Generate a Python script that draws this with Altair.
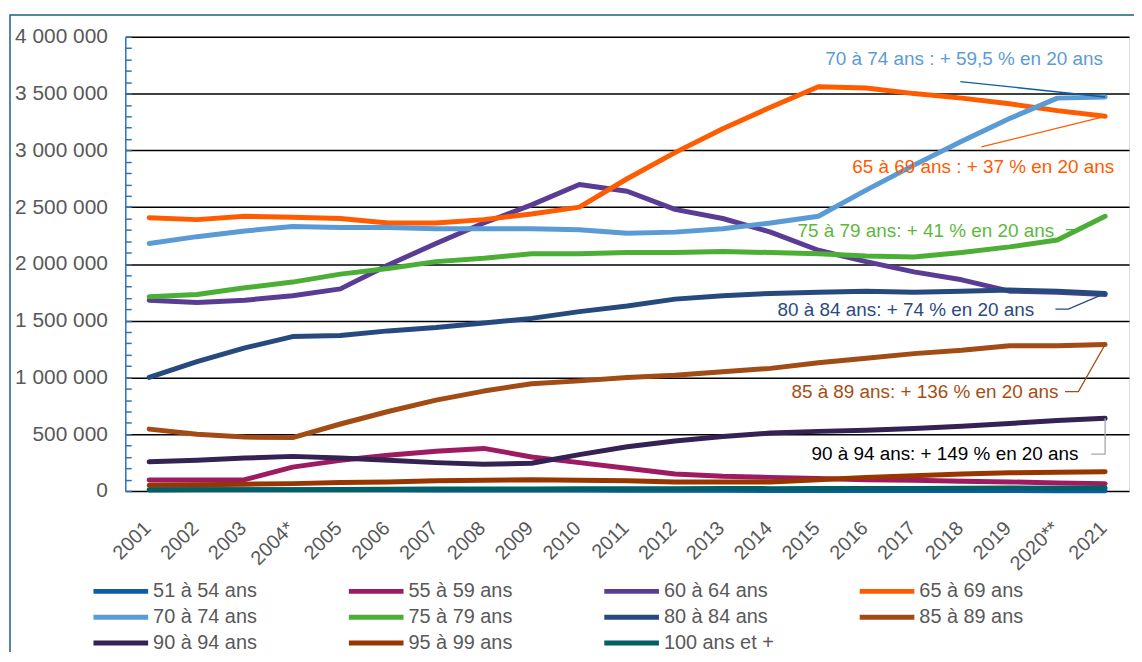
import altair as alt
import pandas as pd

years = list(range(2001, 2022))
year_labels = ["2001", "2002", "2003", "2004*", "2005", "2006", "2007", "2008", "2009", "2010",
               "2011", "2012", "2013", "2014", "2015", "2016", "2017", "2018", "2019", "2020**", "2021"]

series_names = ["51 à 54 ans", "55 à 59 ans", "60 à 64 ans", "65 à 69 ans",
                "70 à 74 ans", "75 à 79 ans", "80 à 84 ans", "85 à 89 ans",
                "90 à 94 ans", "95 à 99 ans", "100 ans et +"]
series_colors = ["#0b5da8", "#9e1b62", "#5b3c95", "#ff5b00",
                 "#5b9bd5", "#4caf35", "#274a7e", "#a24b14",
                 "#332253", "#993600", "#005f67"]

s51_54 = [12000, 12000, 11000, 11000, 10000, 10000, 9000, 9000, 9000, 8000, 7000,
          6000, 6000, 5000, 5000, 5000, 4000, 4000, 4000, 3000, 3000]
s55_59 = [96000, 96000, 100000, 210000, 270000, 315000, 350000, 375000, 300000, 250000, 200000,
          150000, 130000, 120000, 110000, 100000, 95000, 85000, 80000, 70000, 65000]
s60_64 = [1680000, 1660000, 1680000, 1720000, 1780000, 1990000, 2180000, 2360000, 2520000, 2700000, 2640000,
          2480000, 2400000, 2280000, 2120000, 2020000, 1930000, 1860000, 1760000, 1750000, 1730000]
s65_69 = [2407000, 2390000, 2420000, 2410000, 2400000, 2360000, 2360000, 2390000, 2440000, 2500000, 2750000,
          2980000, 3190000, 3380000, 3560000, 3550000, 3500000, 3460000, 3410000, 3350000, 3300000]
s70_74 = [2180000, 2240000, 2290000, 2330000, 2320000, 2320000, 2310000, 2310000, 2310000, 2300000, 2270000,
          2280000, 2310000, 2360000, 2420000, 2650000, 2870000, 3080000, 3280000, 3460000, 3470000]
s75_79 = [1710000, 1730000, 1790000, 1840000, 1910000, 1960000, 2020000, 2050000, 2090000, 2090000, 2100000,
          2100000, 2110000, 2100000, 2090000, 2070000, 2060000, 2100000, 2150000, 2210000, 2420000]
s80_84 = [1000000, 1140000, 1260000, 1360000, 1370000, 1410000, 1440000, 1480000, 1520000, 1580000, 1630000,
          1690000, 1720000, 1740000, 1750000, 1760000, 1750000, 1760000, 1770000, 1760000, 1740000]
s85_89 = [545000, 500000, 475000, 470000, 590000, 700000, 800000, 880000, 945000, 970000, 1000000,
          1020000, 1050000, 1080000, 1130000, 1170000, 1210000, 1240000, 1280000, 1280000, 1290000]
s90_94 = [257000, 270000, 290000, 305000, 290000, 270000, 250000, 235000, 245000, 320000, 390000,
          440000, 480000, 510000, 525000, 535000, 550000, 570000, 595000, 620000, 640000]
s95_99 = [50000, 55000, 60000, 65000, 75000, 80000, 90000, 95000, 100000, 95000, 90000,
          80000, 80000, 80000, 100000, 120000, 135000, 150000, 160000, 165000, 170000]
s100 = [9000, 11000, 12000, 12000, 14000, 15000, 17000, 17000, 18000, 19000, 20000,
        21000, 22000, 21000, 22000, 23000, 23000, 24000, 26000, 25000, 27000]

series_values = [s51_54, s55_59, s60_64, s65_69, s70_74, s75_79, s80_84, s85_89, s90_94, s95_99, s100]

ann_texts = ["70 à 74 ans : + 59,5 % en 20 ans", "65 à 69 ans : + 37 % en 20 ans",
             "75 à 79 ans: + 41 % en 20 ans", "80 à 84 ans: + 74 % en 20 ans",
             "85 à 89 ans: + 136 % en 20 ans", "90 à 94 ans: + 149 % en 20 ans"]
ann_x = [2018.05, 2018.45, 2017.25, 2016.83, 2017.23, 2017.65]
ann_y = [3807000, 2853000, 2293000, 1593000, 875000, 324000]
ann_colors = ["#5b9bd5", "#ff5b00", "#5cb83c", "#2b4a80", "#a64d14", "#000000"]
leader_colors = ["#0b5da8", "#ff5b00", "#4caf35", "#274a7e", "#a24b14", "#a6a6a6"]
leader_x = [[2017.97, 2021.0], [2018.41, 2021.0], [2020.18, 2020.5, 2021.0],
            [2019.96, 2020.23, 2021.0], [2020.16, 2020.44, 2021.0], [2020.71, 2021.0, 2021.0]]
leader_y = [[3606000, 3470000], [3030000, 3300000], [2302000, 2302000, 2420000],
            [1602000, 1602000, 1740000], [875000, 875000, 1290000], [324000, 324000, 640000]]

y_major = [0, 500000, 1000000, 1500000, 2000000, 2500000, 3000000, 3500000, 4000000]
y_minor = list(range(0, 4000001, 100000))

rows = []
for name, vals in zip(series_names, series_values):
    for yr, v in zip(years, vals):
        rows.append({"serie": name, "annee": yr, "valeur": v})
df = pd.DataFrame(rows)

# legend is filled column by column (3 rows): reorder the domain so it reads row by row
n_rows = 3
n_cols = 4
legend_order = []
for c in range(n_cols):
    for r in range(n_rows):
        k = r * n_cols + c
        if k < len(series_names):
            legend_order.append(k)
legend_domain = [series_names[k] for k in legend_order]
legend_range = [series_colors[k] for k in legend_order]

xscale = alt.Scale(domain=[2000.5, 2021.5], nice=False, zero=False)
yscale = alt.Scale(domain=[0, 4000000], nice=False)

FONT = "Liberation Sans"
GRAY = "#595959"

frame = alt.Chart(pd.DataFrame({"a": [0]})).mark_rect(
    filled=False, stroke="#1d5f7c", strokeWidth=1.5
).encode(x=alt.value(-116), x2=alt.value(1400), y=alt.value(-22), y2=alt.value(900))

# x-axis labels drawn as text marks placed through the x scale
xl = pd.DataFrame({"annee": years, "lab": year_labels})
xlabels = alt.Chart(xl).mark_text(angle=315, align="right", baseline="middle",
                                  fontSize=20, font=FONT, color=GRAY, dx=-2).encode(
    x=alt.X("annee:Q", scale=xscale, axis=None),
    y=alt.value(470 - 457 + 457 + 20),
    text="lab:N",
)

lines = alt.Chart(df).mark_line(strokeWidth=5, strokeCap="round", strokeJoin="round").encode(
    x=alt.X("annee:Q", scale=xscale, axis=None),
    y=alt.Y("valeur:Q", scale=yscale,
            axis=alt.Axis(values=y_major, orient="left",
                          labelExpr="replace(format(datum.value, ','), /,/g, ' ')",
                          grid=True, gridColor="#000000", gridWidth=1.5,
                          domainColor="#2e75b6", domainWidth=1.5, ticks=False,
                          labelPadding=18, labelFontSize=21, labelColor=GRAY, labelFont=FONT,
                          title=None)),
    color=alt.Color("serie:N", scale=alt.Scale(domain=legend_domain, range=legend_range),
                    legend=alt.Legend(orient="none", legendX=-37, legendY=548, columns=4,
                                      symbolType="M-1,0H10", symbolSize=100, symbolStrokeWidth=5,
                                      labelFontSize=20, labelColor=GRAY, labelFont=FONT,
                                      labelOffset=45, title=None, columnPadding=76, rowPadding=6,
                                      gridAlign="all", labelLimit=300)),
)

minor_axis = alt.Chart(pd.DataFrame({"v": y_minor})).mark_point(opacity=0).encode(
    y=alt.Y("v:Q", scale=yscale,
            axis=alt.Axis(values=y_minor, orient="left", offset=-6, tickSize=6, tickWidth=1.5,
                          tickColor="#2e75b6", domain=False, labels=False, grid=False, title=None)),
)

layers = [frame, lines, minor_axis, xlabels]
for i in range(len(ann_texts)):
    ldf = pd.DataFrame({"x": leader_x[i], "y": leader_y[i], "p": list(range(len(leader_x[i])))})
    leader = alt.Chart(ldf).mark_line(strokeWidth=1.3, color=leader_colors[i]).encode(
        x=alt.X("x:Q", scale=xscale, axis=None),
        y=alt.Y("y:Q", scale=yscale, axis=None),
        order="p:Q",
    )
    tdf = pd.DataFrame({"x": [ann_x[i]], "y": [ann_y[i]], "t": [ann_texts[i]]})
    txt = alt.Chart(tdf).mark_text(fontSize=19, font=FONT, color=ann_colors[i],
                                   align="center", baseline="middle").encode(
        x=alt.X("x:Q", scale=xscale, axis=None),
        y=alt.Y("y:Q", scale=yscale, axis=None),
        text="t:N",
    )
    layers += [leader, txt]

chart = alt.layer(*layers).resolve_axis(y="independent").properties(
    width=1010, height=457,
    autosize=alt.AutoSizeParams(type="none"),
    padding={"left": 118, "top": 27, "right": 5, "bottom": 160},
).configure_view(stroke=None).configure(font=FONT)

chart.save("out.html", embed_options={"renderer": "svg", "actions": False})
